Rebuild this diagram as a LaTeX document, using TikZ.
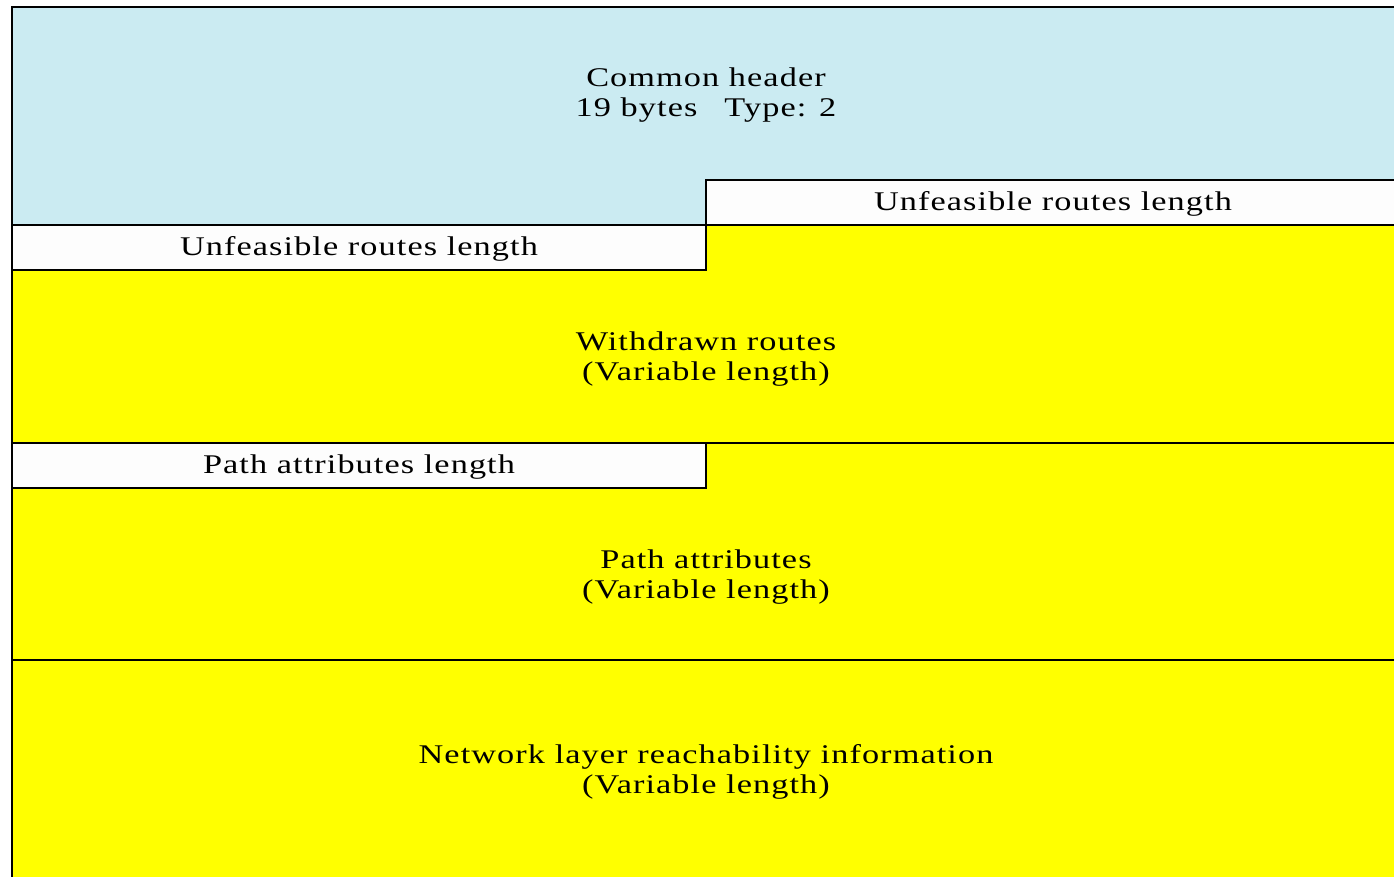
\documentclass[tikz,border=0pt]{standalone}
\usepackage{fontspec}
\setmainfont{Liberation Serif}[FakeStretch=1.27,LetterSpace=4]
\definecolor{hdrblue}{HTML}{CBEBF2}
\definecolor{ylw}{HTML}{FFFF00}
\definecolor{wbox}{HTML}{FDFDFD}
\begin{document}
\begin{tikzpicture}[x=1pt,y=-1pt,
  frame/.style={draw=black,line width=2pt},
  lenbox/.style={frame,fill=wbox},
  lbl/.style={font=\fontsize{27}{30}\selectfont,align=center,inner sep=0pt,text=black}]
\useasboundingbox (0,0) rectangle (1394,877);
\begin{scope}
\clip (0,0) rectangle (1394,877);
% header
\path[fill=hdrblue] (12,7) rectangle (1420,225);
% yellow body
\path[fill=ylw] (12,225) rectangle (1420,900);
% white length boxes
\draw[lenbox] (706,180) rectangle (1420,225);
\draw[lenbox] (12,225) rectangle (706,270);
\draw[lenbox] (12,443) rectangle (706,488);
% full-width separators
\draw[frame] (12,225) -- (1420,225);
\draw[frame] (12,443) -- (1420,443);
\draw[frame] (12,660) -- (1420,660);
% outer frame (left and top)
\draw[frame] (12,900) -- (12,7) -- (1420,7);
\end{scope}
\node[lbl] (hdr) at (706,95) {Common header\\19 bytes\quad Type: 2};
\node[lbl] (urlR) at (1053,204) {Unfeasible routes length};
\node[lbl] (urlL) at (359,249) {Unfeasible routes length};
\node[lbl] (wr) at (706,359) {Withdrawn routes\\(Variable length)};
\node[lbl] (pal) at (359,467) {Path attributes length};
\node[lbl] (pa) at (706,577) {Path attributes\\(Variable length)};
\node[lbl] (nlri) at (706,772) {Network layer reachability information\\(Variable length)};
\end{tikzpicture}
\end{document}
